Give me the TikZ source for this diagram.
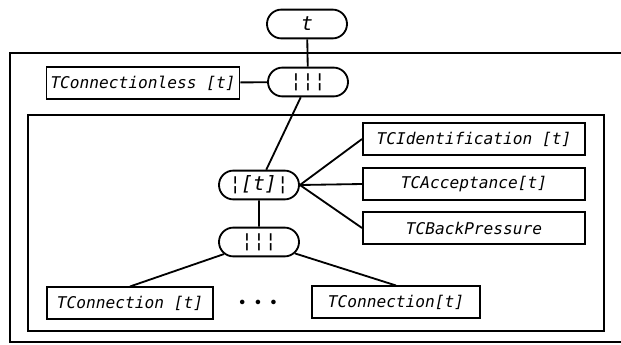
\documentclass[tikz,border=0pt]{standalone}
\usepackage{fontspec}
\setmonofont{DejaVu Sans Mono}
\usetikzlibrary{shapes.misc}
\begin{document}
\begin{tikzpicture}[x=0.025cm,y=-0.025cm,line width=1.3pt,
		lbl/.style={font=\ttfamily\itshape\fontsize{11.5}{13}\selectfont},
		proc/.style={draw,rounded rectangle,minimum width=2cm,minimum height=0.72cm,inner sep=0pt,font=\ttfamily\itshape\fontsize{14}{16}\selectfont},
		tbox/.style={lbl,draw,rectangle,minimum height=0.78cm,inner sep=2pt}]
		\useasboundingbox (0,0) rectangle (621,344);
		\clip (0,0) rectangle (621,344);
		
		% frames
		\draw (10,53) rectangle (640,342);
		\draw (28,115) rectangle (604,331);
		
		\node[proc] (top) at (307,24) {t};
		\node[proc] (par1) at (308,82) {¦¦¦};
		\node[tbox,minimum width=4.825cm] (less) at (143,83) {TConnectionless [t]};
		
		\node[proc] (hide) at (259,185) {¦[t]¦};
		\node[proc] (par2) at (259,242) {¦¦¦};
		\node[tbox,minimum width=5.55cm] (ident) at (474,139) {TCIdentification [t]};
		\node[tbox,minimum width=5.55cm] (accept) at (474,184) {TCAcceptance[t]};
		\node[tbox,minimum width=5.55cm] (back) at (474,228) {TCBackPressure};
		
		\node[tbox,minimum width=4.15cm] (conA) at (130,303) {TConnection [t]};
		\node[tbox,minimum width=4.2cm] (conB) at (396,302) {TConnection[t]};
		\node[font=\large] (dots) at (258,303) {\textbullet\,\textbullet\,\textbullet};
		
		\draw (top) -- (par1);
		\draw (less) -- (par1);
		\draw (par1) -- (hide);
		\draw (hide.east) -- (ident.west);
		\draw (hide.east) -- (accept.west);
		\draw (hide.east) -- (back.west);
		\draw (hide) -- (par2);
		\draw (par2) -- (conA.north);
		\draw (par2) -- (conB.north);
	\end{tikzpicture}
\end{document}
